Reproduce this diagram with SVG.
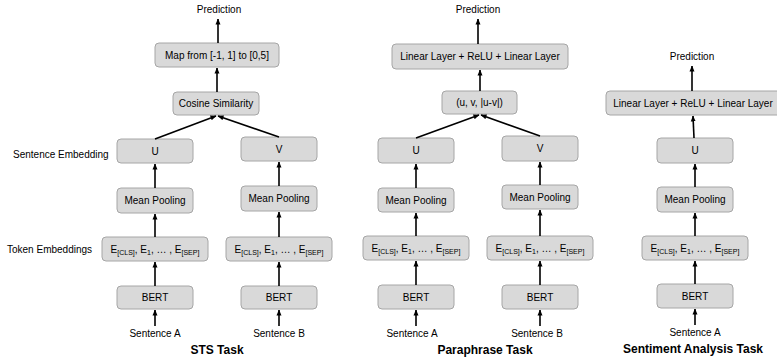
<svg xmlns="http://www.w3.org/2000/svg" width="777" height="358" viewBox="0 0 777 358">
<defs>
<marker id="ah" markerUnits="userSpaceOnUse" markerWidth="6" markerHeight="6" viewBox="0 0 6 6" refX="5.5" refY="3" orient="auto">
<path d="M0,0.5 L6,3 L0,5.5 Z" fill="#000"/>
</marker>
<style>
rect.b{fill:#d9d9d9;stroke:#a6a6a6;stroke-width:1}
text{font-family:"Liberation Sans",Arial,sans-serif;font-size:10px;fill:#000}
text.c{text-anchor:middle}
text.t{font-weight:bold;font-size:12px;text-anchor:middle}
.s{font-size:7px}
#connectors line{stroke:#000;stroke-width:1.6;marker-end:url(#ah)}
</style>
</defs>
<rect width="777" height="358" fill="#fff"/>

<!-- side labels -->
<text id="lbl-sent-emb" x="13" y="157.5">Sentence Embedding</text>
<text id="lbl-tok-emb" x="7" y="252.5">Token Embeddings</text>

<!-- STS task -->
<g id="sts-pred"><text class="c" x="219" y="12.5">Prediction</text></g>
<g id="sts-map"><rect class="b" x="155" y="43" width="124" height="24" rx="4"/><text class="c" x="217" y="58.5">Map from [-1, 1] to [0,5]</text></g>
<g id="sts-cos"><rect class="b" x="173" y="92" width="86" height="23" rx="4"/><text class="c" x="216" y="107">Cosine Similarity</text></g>
<g id="sts-u"><rect class="b" x="117" y="139" width="76" height="24" rx="4"/><text class="c" x="155" y="154.5">U</text></g>
<g id="sts-v"><rect class="b" x="241" y="137" width="76" height="24" rx="4"/><text class="c" x="279" y="152.5">V</text></g>
<g id="sts-mp-a"><rect class="b" x="117" y="188" width="76" height="25" rx="4"/><text class="c" x="155" y="204">Mean Pooling</text></g>
<g id="sts-mp-b"><rect class="b" x="241" y="186" width="76" height="25" rx="4"/><text class="c" x="279" y="202">Mean Pooling</text></g>
<g id="sts-e-a"><rect class="b" x="102" y="237" width="106" height="24" rx="4"/><text class="c" x="155" y="252.5">E<tspan class="s" dy="2">[CLS]</tspan><tspan dy="-2">, E</tspan><tspan class="s" dy="2">1</tspan><tspan dy="-2">, … , E</tspan><tspan class="s" dy="2">[SEP]</tspan></text></g>
<g id="sts-e-b"><rect class="b" x="226" y="237" width="106" height="24" rx="4"/><text class="c" x="279" y="252.5">E<tspan class="s" dy="2">[CLS]</tspan><tspan dy="-2">, E</tspan><tspan class="s" dy="2">1</tspan><tspan dy="-2">, … , E</tspan><tspan class="s" dy="2">[SEP]</tspan></text></g>
<g id="sts-bert-a"><rect class="b" x="117" y="286" width="76" height="23" rx="4"/><text class="c" x="155" y="301">BERT</text></g>
<g id="sts-bert-b"><rect class="b" x="241" y="286" width="76" height="23" rx="4"/><text class="c" x="279" y="301">BERT</text></g>
<g id="sts-sa"><text class="c" x="155" y="336.5">Sentence A</text></g>
<g id="sts-sb"><text class="c" x="279" y="336.5">Sentence B</text></g>
<g id="sts-title"><text class="t" x="217" y="354">STS Task</text></g>

<!-- Paraphrase task -->
<g id="par-pred"><text class="c" x="478" y="12.5">Prediction</text></g>
<g id="par-lin"><rect class="b" x="392" y="44" width="176" height="25" rx="4"/><text class="c" x="480" y="60">Linear Layer + ReLU + Linear Layer</text></g>
<g id="par-cat"><rect class="b" x="442" y="91" width="75" height="23" rx="4"/><text class="c" x="479.5" y="106">(u, v, |u-v|)</text></g>
<g id="par-u"><rect class="b" x="378" y="138" width="76" height="25" rx="4"/><text class="c" x="416" y="154">U</text></g>
<g id="par-v"><rect class="b" x="502" y="136" width="76" height="25" rx="4"/><text class="c" x="540" y="152">V</text></g>
<g id="par-mp-a"><rect class="b" x="378" y="188" width="76" height="24" rx="4"/><text class="c" x="416" y="203.5">Mean Pooling</text></g>
<g id="par-mp-b"><rect class="b" x="502" y="185" width="76" height="24" rx="4"/><text class="c" x="540" y="200.5">Mean Pooling</text></g>
<g id="par-e-a"><rect class="b" x="363" y="236" width="106" height="24" rx="4"/><text class="c" x="416" y="251.5">E<tspan class="s" dy="2">[CLS]</tspan><tspan dy="-2">, E</tspan><tspan class="s" dy="2">1</tspan><tspan dy="-2">, … , E</tspan><tspan class="s" dy="2">[SEP]</tspan></text></g>
<g id="par-e-b"><rect class="b" x="487" y="236" width="106" height="24" rx="4"/><text class="c" x="540" y="251.5">E<tspan class="s" dy="2">[CLS]</tspan><tspan dy="-2">, E</tspan><tspan class="s" dy="2">1</tspan><tspan dy="-2">, … , E</tspan><tspan class="s" dy="2">[SEP]</tspan></text></g>
<g id="par-bert-a"><rect class="b" x="378" y="285" width="76" height="24" rx="4"/><text class="c" x="416" y="300.5">BERT</text></g>
<g id="par-bert-b"><rect class="b" x="502" y="285" width="76" height="24" rx="4"/><text class="c" x="540" y="300.5">BERT</text></g>
<g id="par-sa"><text class="c" x="412" y="336.5">Sentence A</text></g>
<g id="par-sb"><text class="c" x="537" y="336.5">Sentence B</text></g>
<g id="par-title"><text class="t" x="485" y="354">Paraphrase Task</text></g>

<!-- Sentiment task -->
<g id="sen-pred"><text class="c" x="692" y="59.5">Prediction</text></g>
<g id="sen-lin"><rect class="b" x="606" y="91" width="176" height="24" rx="4"/><text class="c" x="693" y="106.5">Linear Layer + ReLU + Linear Layer</text></g>
<g id="sen-u"><rect class="b" x="657" y="138" width="76" height="25" rx="4"/><text class="c" x="695" y="154">U</text></g>
<g id="sen-mp"><rect class="b" x="657" y="187" width="76" height="25" rx="4"/><text class="c" x="695" y="203">Mean Pooling</text></g>
<g id="sen-e"><rect class="b" x="642" y="236" width="106" height="24" rx="4"/><text class="c" x="695" y="251.5">E<tspan class="s" dy="2">[CLS]</tspan><tspan dy="-2">, E</tspan><tspan class="s" dy="2">1</tspan><tspan dy="-2">, … , E</tspan><tspan class="s" dy="2">[SEP]</tspan></text></g>
<g id="sen-bert"><rect class="b" x="657" y="284" width="76" height="24" rx="4"/><text class="c" x="695" y="299.5">BERT</text></g>
<g id="sen-sa"><text class="c" x="695" y="335.5">Sentence A</text></g>
<g id="sen-title"><text class="t" x="693" y="353">Sentiment Analysis Task</text></g>

<g id="connectors">
<!-- STS -->
<line x1="155" y1="326" x2="155" y2="310"/>
<line x1="279" y1="326" x2="279" y2="310"/>
<line x1="155" y1="286" x2="155" y2="262"/>
<line x1="279" y1="286" x2="279" y2="262"/>
<line x1="155" y1="237" x2="155" y2="214"/>
<line x1="279" y1="237" x2="279" y2="212"/>
<line x1="155" y1="188" x2="155" y2="164"/>
<line x1="279" y1="186" x2="279" y2="162"/>
<line x1="155" y1="139" x2="216" y2="116"/>
<line x1="279" y1="137" x2="218" y2="116"/>
<line x1="217" y1="92" x2="217" y2="68"/>
<line x1="218" y1="43" x2="218" y2="19"/>
<!-- Paraphrase -->
<line x1="416" y1="326" x2="416" y2="310"/>
<line x1="540" y1="326" x2="540" y2="310"/>
<line x1="416" y1="285" x2="416" y2="261"/>
<line x1="540" y1="285" x2="540" y2="261"/>
<line x1="416" y1="236" x2="416" y2="213"/>
<line x1="540" y1="236" x2="540" y2="210"/>
<line x1="416" y1="188" x2="416" y2="164"/>
<line x1="540" y1="185" x2="540" y2="162"/>
<line x1="416" y1="138" x2="479" y2="115"/>
<line x1="540" y1="136" x2="481" y2="115"/>
<line x1="480" y1="91" x2="480" y2="70"/>
<line x1="478" y1="44" x2="478" y2="19"/>
<!-- Sentiment -->
<line x1="695" y1="325" x2="695" y2="309"/>
<line x1="695" y1="284" x2="695" y2="261"/>
<line x1="695" y1="236" x2="695" y2="213"/>
<line x1="695" y1="187" x2="695" y2="164"/>
<line x1="694" y1="138" x2="693" y2="116"/>
<line x1="692" y1="91" x2="692" y2="66"/>
</g>
</svg>
